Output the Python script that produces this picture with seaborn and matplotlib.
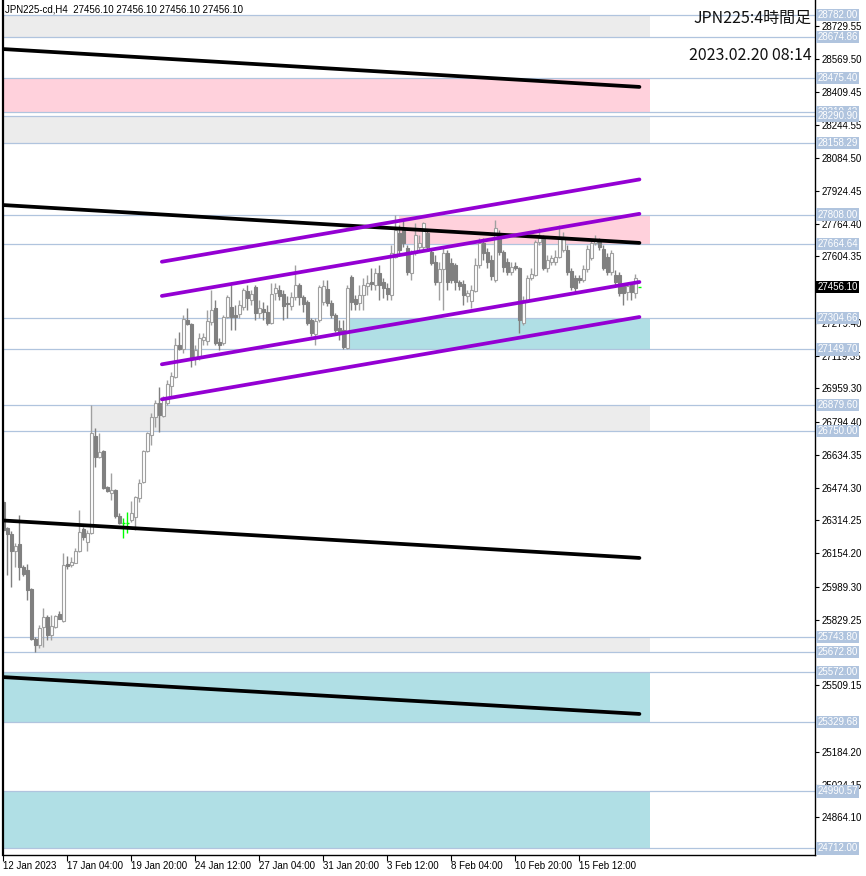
import pandas as pd
import seaborn as sns
import matplotlib.pyplot as plt

sns.set_style('white')
plt.rcParams['font.family'] = ['Liberation Sans', 'DejaVu Sans']

# H4 candles, JPN225-cd, 12 Jan 2023 .. 20 Feb 2023
opens = [26404, 26277, 26248, 26165, 26199, 26087, 26072, 25979, 25735, 25706,
         25794, 25843, 25755, 25794, 25857, 25823, 26102, 26097, 26106, 26165,
         26272, 26209, 26253, 26727, 26624, 26654, 26478, 26448, 26463, 26336,
         26302, 26302, 26316, 26331, 26424, 26502, 26654, 26732, 26820, 26888,
         26825, 26888, 26971, 27015, 27171, 27152, 27293, 27274, 27108, 27113,
         27196, 27191, 27284, 27352, 27186, 27181, 27308, 27357, 27318, 27323,
         27357, 27435, 27391, 27455, 27328, 27347, 27333, 27279, 27425, 27440,
         27420, 27376, 27362, 27406, 27464, 27406, 27381, 27293, 27225, 27293,
         27381, 27445, 27377, 27318, 27254, 27245, 27157, 27503, 27396, 27377,
         27416, 27460, 27479, 27464, 27523, 27479, 27450, 27416, 27601, 27718,
         27733, 27645, 27523, 27621, 27650, 27650, 27718, 27626, 27577, 27479,
         27543, 27621, 27572, 27562, 27479, 27469, 27411, 27386, 27435, 27562,
         27670, 27626, 27587, 27489, 27718, 27626, 27577, 27528, 27557, 27547,
         27279, 27391, 27499, 27513, 27675, 27694, 27547, 27577, 27577, 27601,
         27635, 27635, 27533, 27499, 27499, 27489, 27543, 27596, 27670, 27684,
         27640, 27601, 27528, 27513, 27513, 27460, 27430, 27464, 27425, 27456.1]
highs = [26414, 26282, 26263, 26204, 26341, 26097, 26102, 25984, 25744, 25804,
         25887, 25852, 25852, 25852, 25872, 26155, 26141, 26136, 26180, 26365,
         26282, 26268, 26880, 26766, 26741, 26658, 26483, 26546, 26468, 26351,
         26326, 26356, 26409, 26434, 26517, 26658, 26746, 26839, 26903, 26966,
         26922, 27000, 27039, 27206, 27235, 27318, 27352, 27279, 27171, 27230,
         27230, 27342, 27440, 27391, 27206, 27318, 27416, 27464, 27367, 27391,
         27450, 27464, 27440, 27464, 27391, 27381, 27367, 27474, 27474, 27464,
         27440, 27411, 27430, 27562, 27474, 27416, 27391, 27303, 27303, 27464,
         27489, 27489, 27391, 27328, 27293, 27293, 27464, 27513, 27416, 27464,
         27499, 27513, 27547, 27547, 27562, 27499, 27474, 27660, 27808, 27758,
         27787, 27660, 27635, 27767, 27709, 27772, 27733, 27645, 27611, 27577,
         27645, 27635, 27596, 27572, 27489, 27489, 27440, 27464, 27596, 27694,
         27694, 27645, 27611, 27782, 27733, 27635, 27596, 27577, 27577, 27552,
         27411, 27513, 27547, 27684, 27743, 27709, 27611, 27611, 27635, 27758,
         27723, 27660, 27547, 27513, 27513, 27562, 27660, 27684, 27709, 27694,
         27660, 27621, 27635, 27538, 27528, 27474, 27474, 27479, 27518, 27456.1]
lows = [26258, 26048, 25989, 26087, 26023, 26043, 25926, 25730, 25673, 25691,
        25696, 25730, 25730, 25789, 25833, 25818, 26077, 26087, 26106, 26160,
        26219, 26165, 26248, 26575, 26619, 26468, 26453, 26414, 26326, 26297,
        26229, 26253, 26307, 26268, 26404, 26497, 26649, 26683, 26771, 26746,
        26820, 26878, 26912, 27010, 27147, 27132, 27269, 27064, 27074, 27098,
        27171, 27171, 27269, 27171, 27147, 27171, 27303, 27245, 27245, 27303,
        27342, 27342, 27367, 27293, 27303, 27293, 27269, 27274, 27391, 27391,
        27293, 27303, 27342, 27391, 27367, 27333, 27269, 27215, 27171, 27284,
        27367, 27362, 27303, 27235, 27196, 27150, 27150, 27342, 27342, 27342,
        27342, 27416, 27440, 27440, 27391, 27401, 27391, 27391, 27596, 27611,
        27650, 27513, 27489, 27611, 27635, 27635, 27635, 27562, 27464, 27391,
        27342, 27440, 27474, 27440, 27440, 27367, 27381, 27352, 27430, 27547,
        27586, 27547, 27489, 27479, 27611, 27528, 27513, 27513, 27538, 27230,
        27269, 27381, 27489, 27508, 27660, 27538, 27528, 27562, 27562, 27596,
        27626, 27513, 27440, 27430, 27474, 27479, 27528, 27586, 27660, 27635,
        27538, 27513, 27513, 27464, 27411, 27367, 27391, 27391, 27401, 27456.1]
closes = [26268, 26248, 26165, 26189, 26087, 26053, 25974, 25735, 25705, 25789,
          25843, 25755, 25799, 25848, 25833, 26097, 26092, 26111, 26165, 26258,
          26233, 26253, 26741, 26624, 26649, 26473, 26458, 26463, 26336, 26302,
          26302, 26302, 26351, 26429, 26497, 26654, 26741, 26820, 26888, 26829,
          26912, 26981, 27020, 27171, 27152, 27298, 27274, 27108, 27147, 27206,
          27210, 27289, 27342, 27181, 27171, 27308, 27406, 27308, 27308, 27367,
          27440, 27401, 27420, 27328, 27352, 27333, 27279, 27420, 27450, 27411,
          27362, 27372, 27406, 27464, 27406, 27372, 27279, 27230, 27289, 27455,
          27460, 27377, 27318, 27245, 27235, 27162, 27450, 27381, 27372, 27416,
          27464, 27474, 27469, 27523, 27464, 27450, 27420, 27621, 27733, 27635,
          27670, 27528, 27621, 27709, 27670, 27767, 27650, 27572, 27479, 27543,
          27621, 27479, 27489, 27479, 27460, 27416, 27425, 27440, 27562, 27670,
          27621, 27577, 27508, 27743, 27626, 27552, 27528, 27552, 27547, 27293,
          27391, 27499, 27518, 27675, 27694, 27547, 27587, 27596, 27601, 27699,
          27699, 27528, 27455, 27450, 27489, 27543, 27640, 27670, 27684, 27650,
          27547, 27528, 27621, 27479, 27425, 27425, 27460, 27430, 27499, 27456.1]

date_ticks = ['12 Jan 2023', '17 Jan 04:00', '19 Jan 20:00', '24 Jan 12:00', '27 Jan 04:00',
              '31 Jan 20:00', '3 Feb 12:00', '8 Feb 04:00', '10 Feb 20:00', '15 Feb 12:00']
date_tick_bars = [0, 16, 32, 48, 64, 80, 96, 112, 128, 144]

# the scale labels that are not hidden behind the level boxes
price_ticks = [28729.55, 28569.50, 28409.45, 28244.55, 28084.50, 27924.45, 27764.40,
               27604.35, 27279.40, 27119.35, 26959.30, 26794.40, 26634.35,
               26474.30, 26314.25, 26154.20, 25989.30, 25829.25, 25509.15,
               25184.20, 25024.15, 24864.10]

# supply / demand zones
zone_low = [28674.86, 28310.42, 28158.29, 27664.64, 27149.70, 26750.00, 25672.80, 25329.68, 24712.00]
zone_high = [28782.00, 28475.40, 28290.90, 27808.00, 27304.66, 26879.60, 25743.80, 25572.00, 24990.57]
zone_start = [-1, -1, -1, 98.9, 86.1, 22.1, 7.9, -1, -1]
zone_kind = ['gray', 'pink', 'gray', 'pink', 'cyan', 'gray', 'gray', 'cyan', 'cyan']
zone_end = 161.6
zone_colors = {'gray': '#ececec', 'pink': '#ffd1dc', 'cyan': '#b0dfe5'}

# trend lines (bar index, price)
black_bars = [-0.125, 159]
black_lines = [[28617, 28432], [27855, 27670], [26314, 26131], [25549, 25369]]
purple_bars = [39.6, 159]
purple_lines = [[27578, 27980], [27411, 27812], [27077, 27479], [26906, 27308]]

last_price = 27456.10

fig = plt.figure(figsize=(8.66, 8.76), dpi=100)
ax = fig.add_axes([3 / 866, 21 / 876, 812 / 866, 855 / 876])
ax.set_xlim(-0.125, 202.9)
ax.set_ylim(24679.9, 28856.6)

for lo, hi, st, kind in zip(zone_low, zone_high, zone_start, zone_kind):
    ax.fill_between([st, zone_end], lo, hi, color=zone_colors[kind], lw=0, zorder=0)
    ax.axhline(lo, color='#b0c4de', lw=0.9, zorder=1)
    ax.axhline(hi, color='#b0c4de', lw=0.9, zorder=1)

candles = pd.DataFrame({'open': opens, 'high': highs, 'low': lows, 'close': closes})
candles['bar'] = range(len(candles))
up = candles[candles['close'] > candles['open']]
down = candles[candles['close'] < candles['open']]
doji = candles[candles['close'] == candles['open']]

ax.vlines(up['bar'], up['low'], up['high'], color='#a0a0a0', lw=1, zorder=2)
ax.vlines(down['bar'], down['low'], down['high'], color='#808080', lw=1, zorder=2)
ax.bar(up['bar'], up['close'] - up['open'], bottom=up['open'], width=0.7,
       facecolor='white', edgecolor='#a0a0a0', lw=0.8, zorder=2.1)
ax.bar(down['bar'], down['open'] - down['close'], bottom=down['close'], width=0.7,
       facecolor='#808080', edgecolor='#808080', lw=0.8, zorder=2.1)
ax.vlines(doji['bar'], doji['low'], doji['high'], color='#00ff00', lw=1, zorder=2.2)
ax.hlines(doji['close'], doji['bar'] - 0.4, doji['bar'] + 0.4, color='#00ff00', lw=1, zorder=2.2)

rows = []
for k, pr in enumerate(black_lines):
    for b, p in zip(black_bars, pr):
        rows.append({'bar': b, 'price': p, 'line': f'b{k}'})
trend = pd.DataFrame(rows)
sns.lineplot(data=trend, x='bar', y='price', units='line', estimator=None,
             color='black', lw=2.7, ax=ax, zorder=3)
rows = []
for k, pr in enumerate(purple_lines):
    for b, p in zip(purple_bars, pr):
        rows.append({'bar': b, 'price': p, 'line': f'p{k}'})
channel = pd.DataFrame(rows)
sns.lineplot(data=channel, x='bar', y='price', units='line', estimator=None,
             color='#9400d3', lw=2.7, ax=ax, zorder=3)

# axes cosmetics
ax.spines['top'].set_visible(False)
ax.spines['left'].set_linewidth(1.6)
ax.spines['right'].set_linewidth(1.0)
ax.spines['bottom'].set_linewidth(1.0)
for s in ['left', 'right', 'bottom']:
    ax.spines[s].set_color('black')
ax.set_xlabel('')
ax.set_ylabel('')

ax.yaxis.tick_right()
ax.set_yticks(price_ticks)
ax.set_yticklabels([f'{v:.2f}' for v in price_ticks])
ax.tick_params(axis='y', right=True, left=False, direction='out', length=3, width=0.8,
               pad=2, labelsize=7, colors='black')
ax.set_xticks(date_tick_bars)
ax.set_xticklabels(date_ticks)
ax.tick_params(axis='x', bottom=True, direction='out', length=4, width=0.8,
               pad=0, labelsize=7, colors='black')
for lab in ax.get_xticklabels():
    lab.set_ha('left')

ytr = ax.get_yaxis_transform()
zone_levels = []
for lo, hi in zip(zone_low, zone_high):
    zone_levels += [hi, lo]
for v in zone_levels:
    ax.text(1.003, v, f'{v:.2f}', transform=ytr, ha='left', va='center', fontsize=7,
            color='white', clip_on=False, zorder=5,
            bbox=dict(boxstyle='square,pad=0.12', fc='#b0c4de', ec='none'))
ax.text(1.003, last_price, f'{last_price:.2f}', transform=ytr, ha='left', va='center',
        fontsize=7, color='white', clip_on=False, zorder=6,
        bbox=dict(boxstyle='square,pad=0.12', fc='black', ec='none'))

fig.text(5 / 866, 1 - 10 / 876, 'JPN225-cd,H4  27456.10 27456.10 27456.10 27456.10',
         ha='left', va='center', fontsize=7, color='black')
fig.text(812 / 866, 1 - 18 / 876, 'JPN225:4時間足', ha='right', va='center', fontsize=11.5,
         color='#111111', family=['Noto Sans CJK JP', 'DejaVu Sans'])
fig.text(812 / 866, 1 - 55 / 876, '2023.02.20 08:14', ha='right', va='center', fontsize=11.5,
         color='#111111', family=['Noto Sans CJK JP', 'DejaVu Sans'])

fig.savefig('out.png', dpi=100, facecolor='white')
